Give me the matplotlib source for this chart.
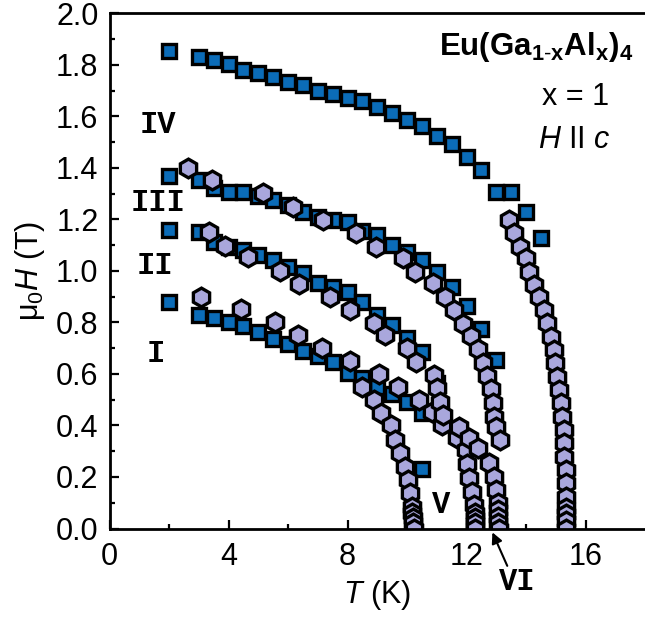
import matplotlib
matplotlib.use("Agg")
import matplotlib.pyplot as plt

"""
Eu(Ga1-xAlx)4, x = 1, H || c : phase diagram mu0H vs T
squares = field sweeps, hexagons = temperature sweeps
"""

# ---- field sweeps (squares), H in T at fixed T ----
T_sq = [2, 3, 3.5, 4, 4.5, 5, 5.5, 6, 6.5, 7, 7.5, 8, 8.5, 9, 9.5, 10,
        10.5, 11, 11.5, 12, 12.5, 13, 13.5, 14, 14.5]
H_sq_IV = [1.855, 1.832, 1.819, 1.804, 1.781, 1.770, 1.751, 1.733, 1.721,
           1.699, 1.688, 1.672, 1.658, 1.635, 1.612, 1.586, 1.563, 1.522,
           1.493, 1.444, 1.392, 1.308, 1.308, 1.230, 1.127]
H_sq_III = [1.368, 1.353, 1.321, 1.308, 1.308, 1.289, 1.276, 1.256, 1.230,
            1.211, 1.198, 1.190, 1.155, 1.138, 1.101, 1.075, 1.043, 0.997,
            0.939, 0.864, 0.774, 0.654]
H_sq_II = [1.159, 1.150, 1.114, 1.094, 1.082, 1.062, 1.043, 1.017, 0.991,
           0.952, 0.939, 0.917, 0.881, 0.829, 0.790, 0.739, 0.687, 0.565]
H_sq_I = [0.879, 0.829, 0.816, 0.803, 0.786, 0.762, 0.735, 0.716, 0.690,
          0.670, 0.645, 0.605, 0.583, 0.551, 0.522, 0.492, 0.450]
T_sq_V = [10.5]
H_sq_V = [0.232]

# ---- temperature sweeps (hexagons) ----
T_hex_a = [3.07, 4.41, 5.55, 6.35, 7.15, 8.07, 9.05, 9.7, 10.4, 10.83, 11.18,
           11.68, 11.97, 12.0, 12.1, 12.2, 12.25, 12.27, 12.28, 12.29, 12.3]
H_hex_a = [0.900, 0.853, 0.803, 0.751, 0.700, 0.651, 0.600, 0.551, 0.499,
           0.454, 0.400, 0.350, 0.305, 0.250, 0.195, 0.143, 0.090, 0.060,
           0.040, 0.020, 0.0]

T_hex_b = [8.5, 8.9, 9.13, 9.45, 9.61, 9.77, 9.94, 10.05, 10.1, 10.16,
           10.18, 10.2, 10.21, 10.22]
H_hex_b = [0.551, 0.499, 0.447, 0.400, 0.344, 0.292, 0.240, 0.188, 0.137,
           0.085, 0.060, 0.040, 0.020, 0.0]

T_hex_c = [3.33, 3.88, 4.66, 5.72, 6.36, 7.41, 8.1, 8.88, 9.27, 9.99, 10.29,
           10.92, 11.0, 11.1, 11.2, 11.75, 12.1, 12.38, 12.77, 12.94, 12.99,
           13.05, 13.06, 13.07, 13.07, 13.08]
H_hex_c = [1.150, 1.098, 1.053, 1.001, 0.950, 0.898, 0.849, 0.797, 0.751,
           0.700, 0.648, 0.596, 0.545, 0.492, 0.440, 0.395, 0.350, 0.311,
           0.253, 0.201, 0.150, 0.098, 0.070, 0.045, 0.020, 0.0]

T_hex_d = [2.65, 3.43, 5.17, 6.17, 7.17, 8.29, 8.96, 9.88, 10.27, 10.88,
           11.27, 11.58, 11.88, 12.16, 12.38, 12.55, 12.69, 12.83, 12.88,
           12.94, 12.99, 13.11]
H_hex_d = [1.399, 1.353, 1.302, 1.250, 1.198, 1.146, 1.094, 1.049, 0.997,
           0.952, 0.900, 0.849, 0.794, 0.748, 0.696, 0.642, 0.592, 0.541,
           0.486, 0.434, 0.395, 0.344]

T_hex_e = [13.44, 13.61, 13.81, 14.0, 14.1, 14.27, 14.44, 14.61, 14.72,
           14.83, 14.94, 14.99, 15.05, 15.1, 15.16, 15.22, 15.27, 15.27,
           15.29, 15.33, 15.33, 15.33, 15.34, 15.35, 15.35, 15.36]
H_hex_e = [1.198, 1.146, 1.094, 1.049, 0.997, 0.946, 0.900, 0.849, 0.797,
           0.745, 0.693, 0.642, 0.590, 0.538, 0.486, 0.434, 0.383, 0.331,
           0.279, 0.227, 0.176, 0.124, 0.080, 0.055, 0.030, 0.0]

# phase labels: (text, T, H)
phase_labels = [("IV", 1.61, 1.568), ("III", 1.62, 1.262), ("II", 1.52, 1.018),
                ("I", 1.54, 0.676), ("V", 11.16, 0.091)]

plt.rcParams['font.family'] = 'Liberation Sans'
plt.rcParams['mathtext.fontset'] = 'custom'
plt.rcParams['mathtext.rm'] = 'Liberation Sans'
plt.rcParams['mathtext.it'] = 'Liberation Sans:italic'
plt.rcParams['mathtext.bf'] = 'Liberation Sans:bold'

SQ_COLOR = '#0b6cb8'
HEX_COLOR = '#a9a7dc'

fig = plt.figure(figsize=(6.45, 6.35), dpi=100)
ax = fig.add_axes([109.5 / 645, 106.5 / 635, 1 - 109.5 / 645, 515.2 / 635])

sq_kw = dict(linestyle='none', marker='s', markersize=10.5, markerfacecolor=SQ_COLOR,
             markeredgecolor='black', markeredgewidth=2.4)
hex_kw = dict(linestyle='none', marker='h', markersize=13.5, markerfacecolor=HEX_COLOR,
              markeredgecolor='black', markeredgewidth=2.4)

# squares below, hexagons on top
ax.plot(T_sq[:len(H_sq_IV)], H_sq_IV, **sq_kw)
ax.plot(T_sq[:len(H_sq_III)], H_sq_III, **sq_kw)
ax.plot(T_sq[:len(H_sq_II)], H_sq_II, **sq_kw)
ax.plot(T_sq[:len(H_sq_I)], H_sq_I, **sq_kw)
ax.plot(T_sq_V, H_sq_V, **sq_kw)

for T, H in [(T_hex_a, H_hex_a), (T_hex_b, H_hex_b), (T_hex_c, H_hex_c),
             (T_hex_d, H_hex_d), (T_hex_e, H_hex_e)]:
    ax.plot(T, H, **hex_kw)

ax.set_xlim(0, 18)
ax.set_ylim(0, 2.0)
ax.set_xticks([0, 4, 8, 12, 16])
ax.set_xticks([2, 6, 10, 14], minor=True)
ax.set_yticks([0.0, 0.2, 0.4, 0.6, 0.8, 1.0, 1.2, 1.4, 1.6, 1.8, 2.0])
ax.set_yticks([0.1, 0.3, 0.5, 0.7, 0.9, 1.1, 1.3, 1.5, 1.7, 1.9], minor=True)
ax.yaxis.set_major_formatter(matplotlib.ticker.FormatStrFormatter('%.1f'))

ax.tick_params(which='both', direction='in', width=1.6, labelsize=22)
ax.tick_params(which='major', length=6.5)
ax.tick_params(which='minor', length=3.5)
ax.tick_params(axis='x', pad=10)
ax.tick_params(axis='y', pad=8)
ax.tick_params(top=False, right=False)

for side in ['left', 'bottom', 'top']:
    ax.spines[side].set_linewidth(2.0)
ax.spines['right'].set_visible(False)

ax.set_xlabel('$T$ (K)', fontsize=22, labelpad=4)
ax.set_ylabel(r'$\mathrm{\mu}_{0}H$ (T)', fontsize=22, labelpad=6)

for txt, T, H in phase_labels:
    ax.text(T, H, txt, fontsize=22, family='Liberation Mono', fontweight='bold',
            ha='center', va='center')
ax.text(13.7, -0.208, "VI", fontsize=22, family='Liberation Mono', fontweight='bold',
        ha='center', va='center', clip_on=False)
ax.annotate('', xy=(12.87, -0.015), xytext=(13.37, -0.145),
            arrowprops=dict(arrowstyle='-|>', color='black', lw=1.5,
                            mutation_scale=16, shrinkA=0, shrinkB=0),
            annotation_clip=False)

ax.text(0.978, 0.935,
        r'$\mathbf{Eu(Ga}_{\mathbf{1\text{-}x}}\mathbf{Al}_{\mathbf{x}}\mathbf{)}_{\mathbf{4}}$',
        transform=ax.transAxes, fontsize=22.5, ha='right', va='center')
ax.text(0.87, 0.837, 'x = 1', transform=ax.transAxes, fontsize=22,
        ha='center', va='center')
ax.text(0.867, 0.755, '$H$ II $c$', transform=ax.transAxes, fontsize=22,
        ha='center', va='center')

plt.savefig('out.png', dpi=100)
